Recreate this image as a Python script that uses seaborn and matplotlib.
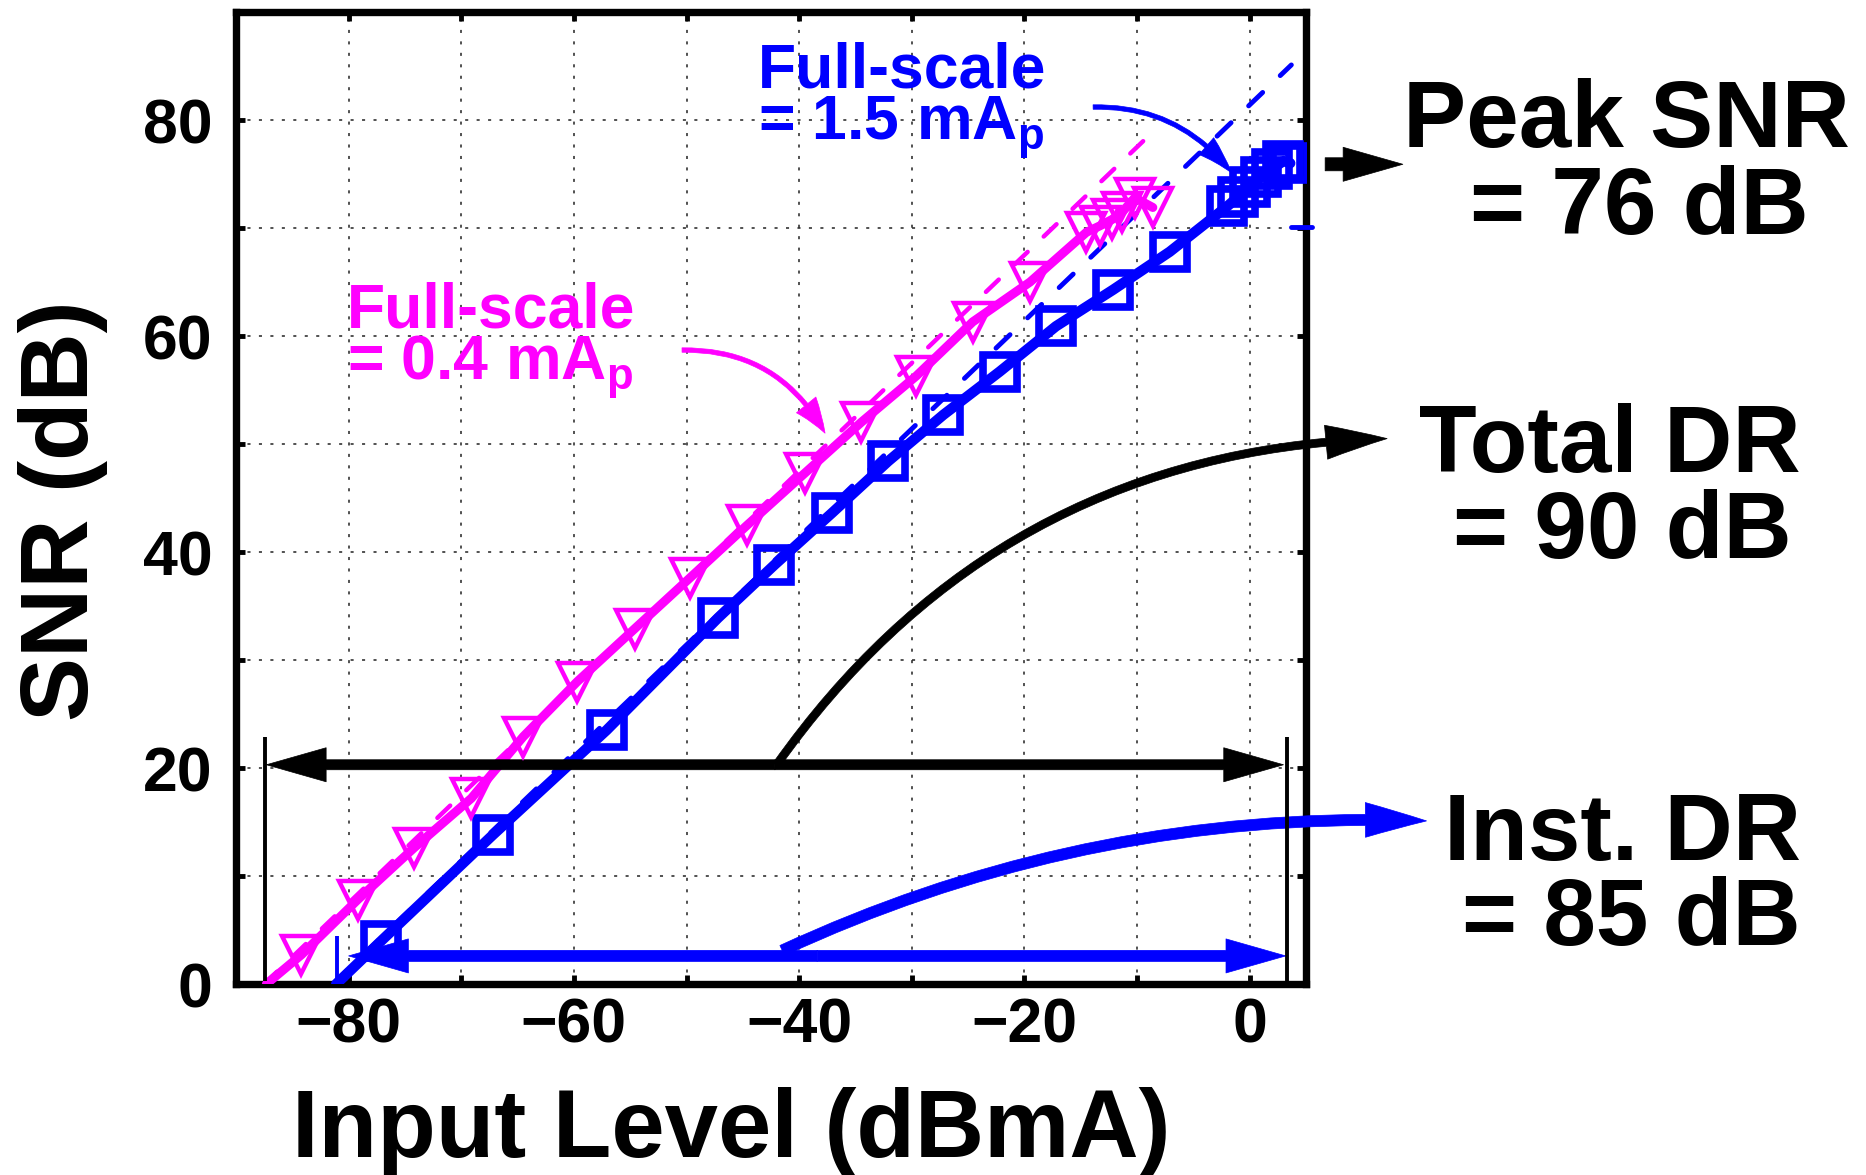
import numpy as np
import pandas as pd
import matplotlib
matplotlib.use("Agg")
import matplotlib.pyplot as plt
import seaborn as sns
from matplotlib.patches import ArrowStyle
from matplotlib.ticker import MultipleLocator, FuncFormatter

# ---------------- data ----------------
# Full-scale = 0.4 mAp (magenta, triangles)
input_04 = [-84.2, -79.2, -74.2, -69.1, -64.5, -59.7, -54.6, -49.7, -44.6, -39.5,
            -34.5, -29.6, -24.6, -19.5, -14.5, -13.3, -12.2, -11.3, -10.2, -8.6]
snr_04 = [2.7, 7.8, 12.6, 17.2, 22.9, 28.0, 32.9, 37.6, 42.5, 47.3,
          52.0, 56.3, 61.3, 65.0, 69.6, 70.2, 70.8, 71.5, 72.8, 71.9]
# Full-scale = 1.5 mAp (blue, squares)
input_15 = [-77.1, -67.2, -57.1, -47.2, -42.2, -37.1, -32.1, -27.2, -22.2, -17.2,
            -12.1, -7.1, -2.0, -1.0, 0.0, 1.0, 2.0, 3.0, 3.6]
snr_15 = [4.0, 13.8, 23.5, 33.9, 38.8, 43.6, 48.4, 52.7, 56.7, 60.9,
          64.3, 67.8, 72.0, 72.9, 73.8, 74.7, 75.5, 76.2, 76.0]
# solid traces start at the SNR = 0 crossing
trace_04_x = [-87.3] + input_04
trace_04_y = [0.0] + snr_04
trace_15_x = [-81.1] + input_15
trace_15_y = [0.0] + snr_15
# ideal (slope 1) dashed lines
ideal_04_x = [-87.5, -8.2]
ideal_04_y = [0.0, 79.3]
ideal_15_x = [-81.4, 3.7]
ideal_15_y = [0.0, 85.1]

MAG = "#ff00ff"
BLU = "#0000ff"

# ---------------- style ----------------
sns.set_theme(style="white")
plt.rcParams["font.family"] = ["Liberation Sans", "DejaVu Sans"]
plt.rcParams["font.weight"] = "bold"
plt.rcParams["text.color"] = "black"
plt.rcParams["axes.labelcolor"] = "black"
plt.rcParams["xtick.color"] = "black"
plt.rcParams["ytick.color"] = "black"
plt.rcParams["mathtext.fontset"] = "custom"
plt.rcParams["mathtext.rm"] = "Liberation Sans:bold"
plt.rcParams["mathtext.bf"] = "Liberation Sans:bold"

W, H = 1866, 1175
fig = plt.figure(figsize=(W / 100, H / 100), dpi=100)
fig.patch.set_facecolor("white")
L, R, T, B = 236, 1306, 12, 984
ax = fig.add_axes([L / W, 1 - B / H, (R - L) / W, (B - T) / H])
ax.set_facecolor("white")

def fx(px):
    return px / W

def fy(py):
    return 1 - py / H

# ---------------- data marks ----------------
sns.lineplot(x=ideal_04_x, y=ideal_04_y, ax=ax, color=MAG, lw=3.2, sort=False,
             estimator=None, linestyle=(0, (4, 5)), dash_capstyle="round", zorder=2)
sns.lineplot(x=ideal_15_x, y=ideal_15_y, ax=ax, color=BLU, lw=3.5, sort=False,
             estimator=None, linestyle=(0, (4, 5)), dash_capstyle="round", zorder=2)

sns.lineplot(x=trace_15_x, y=trace_15_y, ax=ax, color=BLU, lw=7.5, sort=False,
             estimator=None, solid_capstyle="round", zorder=3)
sns.lineplot(x=input_15, y=snr_15, ax=ax, color=BLU, linestyle="none", sort=False,
             estimator=None, marker="s", markersize=24.5, markerfacecolor="none",
             markeredgecolor=BLU, markeredgewidth=5.5, zorder=4)

sns.lineplot(x=trace_04_x, y=trace_04_y, ax=ax, color=MAG, lw=6.5, sort=False,
             estimator=None, solid_capstyle="round", zorder=3)
sns.lineplot(x=input_04, y=snr_04, ax=ax, color=MAG, linestyle="none", sort=False,
             estimator=None, marker="v", markersize=27.5, markerfacecolor="none",
             markeredgecolor=MAG, markeredgewidth=3.2, zorder=4)

# ---------------- axes ----------------
ax.set_xlim(-90, 5)
ax.set_ylim(0, 90)
ax.xaxis.set_major_locator(MultipleLocator(10))
ax.yaxis.set_major_locator(MultipleLocator(10))
ax.xaxis.set_major_formatter(FuncFormatter(
    lambda v, p: (f"{int(round(v))}".replace("-", "\u2212") if (round(v) % 20 == 0 and -85 < v < 1) else "")))
ax.yaxis.set_major_formatter(FuncFormatter(
    lambda v, p: (f"{int(round(v))}" if (round(v) % 20 == 0 and v < 85) else "")))
ax.grid(True, color="#222222", lw=1.1, linestyle=(0, (2, 5.5)))
for s in ax.spines.values():
    s.set_linewidth(5.3)
    s.set_color("black")
    s.set_visible(True)
ax.tick_params(axis="both", which="major", direction="in", length=6.5, width=3.5,
               color="black", labelcolor="black", top=True, right=True,
               bottom=True, left=True, labelsize=45)
ax.tick_params(axis="y", pad=17)
ax.tick_params(axis="x", pad=9)
for lab in ax.get_xticklabels() + ax.get_yticklabels():
    lab.set_fontweight("bold")
ax.set_xlabel("")
ax.set_ylabel("")

fig.text(fx(731), fy(1157), "Input Level (dBmA)", fontsize=69, fontweight="bold",
         ha="center", va="baseline", color="black")
fig.text(fx(63), fy(511), "SNR (dB)", fontsize=69, fontweight="bold",
         ha="center", va="center", rotation=90, color="black")

# ---------------- annotations ----------------
def arrow(start, tip, color, tail, hl, hw, rad=0.0):
    """Filled arrow (tail width, head length, head full width in points)."""
    ax.annotate("", xy=tip, xytext=start, xycoords="data", textcoords="data",
                annotation_clip=False,
                arrowprops=dict(arrowstyle=ArrowStyle("simple", head_length=hl,
                                                      head_width=hw, tail_width=tail),
                                facecolor=color, edgecolor=color, lw=0.5,
                                shrinkA=0, shrinkB=0, mutation_scale=1,
                                connectionstyle=f"arc3,rad={rad}"))

# total DR (black) and instantaneous DR (blue) double arrows
TOTAL_DR_Y = 20.3
TOTAL_DR_X = (-87.3, 3.0)
INST_DR_Y = 2.6
INST_DR_X = (-80.0, 3.2)
ax.vlines([-87.4, 3.3], 0.3, 22.9, color="black", lw=2.8, zorder=5)
ax.vlines([-81.0], 0.3, 4.4, color=BLU, lw=2.8, zorder=5)
mid_t = sum(TOTAL_DR_X) / 2
mid_i = sum(INST_DR_X) / 2
for tip_x in TOTAL_DR_X:
    arrow((mid_t, TOTAL_DR_Y), (tip_x, TOTAL_DR_Y), "black", 7.2, 43, 24.5)
for tip_x in INST_DR_X:
    arrow((mid_i, INST_DR_Y), (tip_x, INST_DR_Y), BLU, 8.0, 43, 24.5)

# curved arrows to the right-hand labels
arrow((-42.0, TOTAL_DR_Y), (12.2, 50.5), "black", 5.8, 44, 24.5, rad=-0.25)
arrow((-41.5, 3.1), (15.7, 15.1), BLU, 8.0, 44, 25, rad=-0.12)
# peak SNR arrow
arrow((6.7, 75.9), (13.6, 75.9), "black", 9.4, 43, 24.5)
ax.hlines(70.1, 3.7, 5.5, color=BLU, lw=3.5, clip_on=False, capstyle="round", zorder=5)

# full-scale labels and arrows
arrow((-50.4, 58.7), (-37.7, 51.0), MAG, 3.2, 24.5, 18, rad=-0.3)
arrow((-13.9, 81.2), (-1.6, 75.1), BLU, 3.2, 26.5, 16, rad=-0.25)

# multi-line labels: va="baseline" aligns the baseline of the last line
fig.text(fx(758), fy(140), "Full-scale\n= 1.5 mA$_\\mathdefault{p}$", color=BLU,
         fontsize=45, fontweight="bold", ha="left", va="baseline",
         multialignment="left", linespacing=0.86)
fig.text(fx(347), fy(380), "Full-scale\n= 0.4 mA$_\\mathdefault{p}$", color=MAG,
         fontsize=45, fontweight="bold", ha="left", va="baseline",
         multialignment="left", linespacing=0.86)

big = dict(fontsize=68, fontweight="bold", ha="center", va="baseline", color="black")
fig.text(fx(1626), fy(147), "Peak SNR", **big)
fig.text(fx(1639), fy(234), "= 76 dB", **big)
fig.text(fx(1610), fy(472), "Total DR", **big)
fig.text(fx(1622), fy(558), "= 90 dB", **big)
fig.text(fx(1623), fy(860), "Inst. DR", **big)
fig.text(fx(1631), fy(945), "= 85 dB", **big)

fig.savefig("out.png", dpi=100, facecolor="white")
